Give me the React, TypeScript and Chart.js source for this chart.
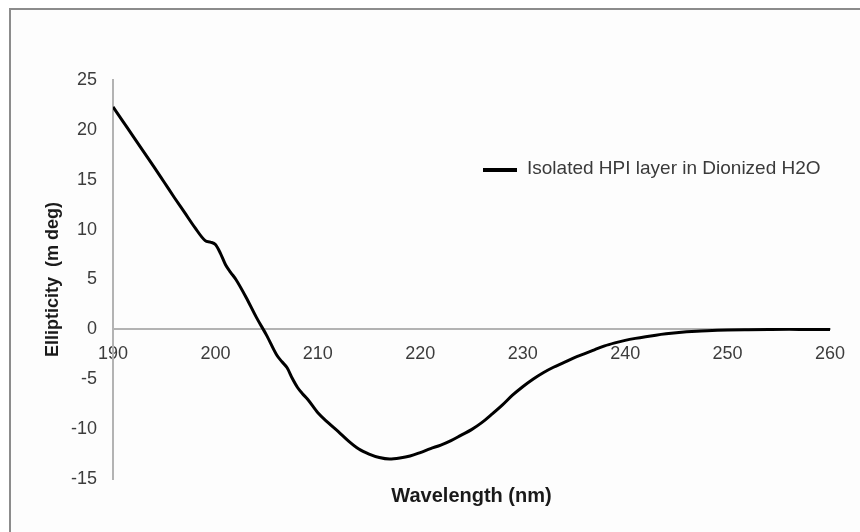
import React, { useEffect, useRef } from "react";
import { Chart, registerables } from "chart.js";

Chart.register(...registerables);

const wavelengths: number[] = [
  190, 191, 192, 193, 194, 195, 196, 197, 198, 199, 199.5, 200, 200.5, 201, 201.5, 202, 203, 204, 205, 206, 206.5,
  207, 207.5, 208, 208.5, 209, 210, 211, 212, 213, 214, 215, 216, 217, 218, 219, 220, 221, 222, 223, 224, 225,
  226, 227, 228, 229, 230, 231, 232, 233, 234, 235, 236, 237, 238, 239, 240, 241, 242, 243, 244, 245, 246, 247,
  248, 249, 250, 252, 254, 256, 258, 260,
];
const ellipticity: number[] = [
  22.3, 20.8, 19.3, 17.8, 16.3, 14.75, 13.2, 11.7, 10.2, 8.9, 8.75, 8.5, 7.6, 6.45, 5.7, 5.0, 3.2, 1.2, -0.6, -2.6, -3.25,
  -3.85, -4.9, -5.8, -6.45, -7.0, -8.35, -9.35, -10.25, -11.2, -12.0, -12.5, -12.85, -13.0, -12.9, -12.7, -12.35,
  -11.95, -11.6, -11.15, -10.6, -10.05, -9.35, -8.5, -7.6, -6.6, -5.75, -5.0, -4.35, -3.8, -3.33, -2.85, -2.45,
  -2.05, -1.65, -1.35, -1.1, -0.9, -0.73, -0.58, -0.45, -0.34, -0.25, -0.18, -0.13, -0.09, -0.06, -0.03, -0.01, 0, 0, 0,
];
const seriesLabel = "Isolated HPI layer in Dionized H2O";
const xTitle = "Wavelength (nm)";
const yTitle = "Ellipticity  (m deg)";
const xMin = 190, xMax = 260, xStep = 10;
const yMin = -15, yMax = 25, yStep = 5;

const FONT = "'Liberation Sans', Arial, Helvetica, sans-serif";

const legendPlugin = {
  id: "customLegend",
  afterDraw(chart: any) {
    const ctx = chart.ctx;
    const ds = chart.data.datasets[0];
    ctx.save();
    ctx.strokeStyle = ds.borderColor;
    ctx.lineWidth = 4;
    ctx.beginPath();
    ctx.moveTo(483, 170);
    ctx.lineTo(517, 170);
    ctx.stroke();
    ctx.fillStyle = "#3a3a3a";
    ctx.font = `19px ${FONT}`;
    ctx.textBaseline = "middle";
    ctx.textAlign = "left";
    ctx.fillText(ds.label, 527, 169);
    ctx.restore();
  },
};

export default function App() {
  const ref = useRef<HTMLCanvasElement>(null);
  useEffect(() => {
    if (!ref.current) return;
    const chart = new Chart(ref.current, {
      type: "line",
      data: {
        datasets: [
          {
            label: seriesLabel,
            data: wavelengths.map((w, i) => ({ x: w, y: ellipticity[i] })),
            borderColor: "#000000",
            borderWidth: 3,
            pointRadius: 0,
            fill: false,
            cubicInterpolationMode: "monotone",
          },
        ],
      },
      options: {
        animation: false,
        responsive: false,
        layout: { padding: { top: 80, right: 30, left: 0, bottom: 0 } },
        plugins: { legend: { display: false }, tooltip: { enabled: false } },
        scales: {
          x: {
            type: "linear",
            position: { y: 0 } as any,
            min: xMin,
            max: xMax,
            grid: { display: false, drawTicks: false },
            border: { display: true, color: "#b3b3b3", width: 2 },
            ticks: { stepSize: xStep, padding: 14, color: "#3c3c3c", font: { family: FONT, size: 18 }, maxRotation: 0 },
          },
          x2: {
            type: "linear",
            axis: "x",
            position: "bottom",
            min: xMin,
            max: xMax,
            grid: { display: false, drawTicks: false },
            border: { display: false },
            ticks: { display: false },
            title: {
              display: true,
              text: xTitle,
              color: "#1a1a1a",
              font: { family: FONT, size: 20, weight: "bold" },
              padding: { top: 0, bottom: 24 },
            },
            afterFit(scale: any) {
              scale.height = 53;
            },
          },
          y: {
            type: "linear",
            position: "left",
            min: yMin,
            max: yMax,
            grid: { display: false, drawTicks: false },
            border: { display: true, color: "#b3b3b3", width: 2 },
            ticks: { stepSize: yStep, padding: 16, color: "#3c3c3c", font: { family: FONT, size: 18 } },
            title: {
              display: true,
              text: yTitle,
              color: "#1a1a1a",
              font: { family: FONT, size: 18, weight: "bold" },
              padding: { top: 42, bottom: 0 },
            },
            afterFit(scale: any) {
              scale.width = 113;
            },
          },
        },
      },
      plugins: [legendPlugin],
    });
    return () => chart.destroy();
  }, []);

  return (
    <div>
      <div
        style={{
          position: "fixed",
          left: 9,
          top: 8,
          width: 880,
          height: 560,
          border: "2px solid #8c8c8c",
          background: "#fdfdfd",
        }}
      />
      <canvas
        ref={ref}
        width={860}
        height={532}
        style={{ position: "fixed", left: 0, top: 0, width: 860, height: 532 }}
      />
    </div>
  );
}
